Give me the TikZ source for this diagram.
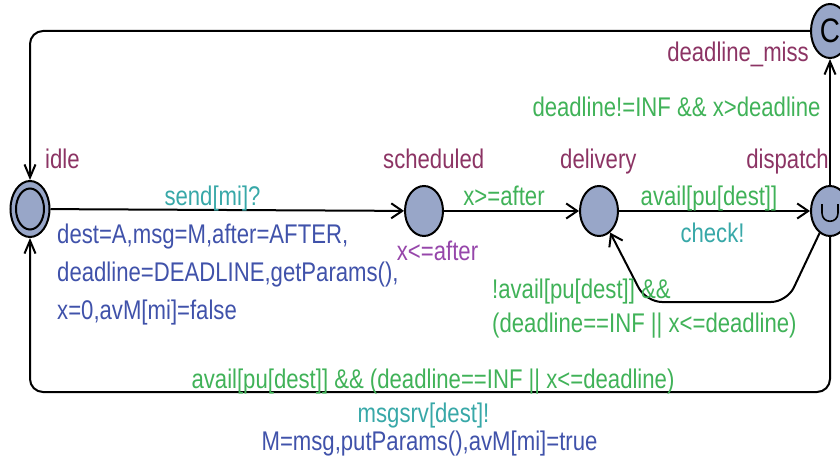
\documentclass[tikz,border=0pt]{standalone}
\usepackage{fontspec}
\setmainfont{Liberation Sans}[FakeStretch=0.82]
\usetikzlibrary{arrows.meta,shapes.geometric}
\definecolor{locname}{RGB}{140,52,100}
\definecolor{guardc}{RGB}{64,178,88}
\definecolor{syncc}{RGB}{56,168,168}
\definecolor{updatec}{RGB}{64,82,170}
\definecolor{invc}{RGB}{150,70,170}
\definecolor{locfill}{RGB}{152,166,200}
\begin{document}
\begin{tikzpicture}[x=1pt,y=-1pt,
  every node/.style={font=\fontsize{27}{32}\selectfont},
  loc/.style={ellipse, draw, line width=2pt, fill=locfill,
    minimum width=38pt, minimum height=50pt, inner sep=0pt},
  edge/.style={draw, line width=2pt},
  harrow/.style={-{Straight Barb[length=11pt,width=15pt,line width=2pt]}},
  varrow/.style={-{Straight Barb[length=13pt,width=11pt,line width=2pt]}},
  lbl/.style={inner sep=0pt},
  ]
\useasboundingbox (0,0) rectangle (840,468);

% locations
\node[loc, minimum width=39pt, minimum height=56pt] (idle) at (30,209) {};
\node[ellipse, draw, line width=2pt, minimum width=28pt, minimum height=41pt,
  inner sep=0pt] (idlein) at (idle) {};
\node[loc] (sched) at (424,211) {};
\node[loc] (deliv) at (599,211) {};
\node[loc] (disp) at (830,211) {};
\node[loc, minimum height=54pt, font=\fontsize{34}{34}\selectfont] (miss) at (830,31) {C};
% urgent mark inside the dispatch location
\draw[line width=1.6pt] (822,204) -- (822,213)
  .. controls (822,224) and (838,224) .. (838,213) -- (838,204);

% corner points of the routed edges
\coordinate (tl) at (30,31);
\coordinate (br) at (830,392);
\coordinate (bl) at (30,392);
\coordinate (r1) at (787,302);
\coordinate (r2) at (646,302);

% edges
\draw[edge, harrow] (idle) -- (sched);
\draw[edge, harrow] (sched) -- (deliv);
\draw[edge, harrow] (deliv) -- (disp);
\draw[edge, varrow] (disp) -- (miss);
\draw[edge, varrow, rounded corners=13pt] (miss) -- (tl) -- (idle);
\draw[edge, varrow, rounded corners=13pt] (disp) -- (br) -- (bl) -- (idle);
\draw[edge, harrow, rounded corners=16pt] (disp) -- (r1) -- (r2) -- (deliv);

% location names
\node[lbl, anchor=base west, text=locname] (nidle) at (45,168) {idle};
\node[lbl, anchor=base west, text=locname] (nsched) at (383,168) {scheduled};
\node[lbl, anchor=base west, text=locname] (ndeliv) at (560,168) {delivery};
\node[lbl, anchor=base east, text=locname] (ndisp) at (829,168) {dispatch};
\node[lbl, anchor=base east, text=locname] (nmiss) at (809,62) {deadline\_miss};

% invariant
\node[lbl, anchor=base, text=invc] (inv) at (437.5,260) {x<=after};

% edge labels
\node[lbl, anchor=base, text=guardc] (g1) at (676.5,117) {deadline!=INF \&\& x>deadline};
\node[lbl, anchor=base, text=syncc] (s1) at (212.5,205) {send[mi]?};
\node[lbl, anchor=base west, text=updatec] (u1) at (57,243) {dest=A,msg=M,after=AFTER,};
\node[lbl, anchor=base west, text=updatec] (u2) at (57,281) {deadline=DEADLINE,getParams(),};
\node[lbl, anchor=base west, text=updatec] (u3) at (57,319) {x=0,avM[mi]=false};
\node[lbl, anchor=base, text=guardc] (g2) at (504,205) {x>=after};
\node[lbl, anchor=base, text=guardc] (g3) at (709,205) {avail[pu[dest]]};
\node[lbl, anchor=base, text=syncc] (s3) at (712.5,242) {check!};
\node[lbl, anchor=base west, text=guardc] (g4a) at (492,298) {!avail[pu[dest]] \&\&};
\node[lbl, anchor=base west, text=guardc] (g4b) at (492,332) {(deadline==INF || x<=deadline)};
\node[lbl, anchor=base, text=guardc] (g5) at (433,388) {avail[pu[dest]] \&\& (deadline==INF || x<=deadline)};
\node[lbl, anchor=base, text=syncc] (s5) at (423.5,422) {msgsrv[dest]!};
\node[lbl, anchor=base, text=updatec] (u5) at (429.5,450) {M=msg,putParams(),avM[mi]=true};
\end{tikzpicture}
\end{document}
